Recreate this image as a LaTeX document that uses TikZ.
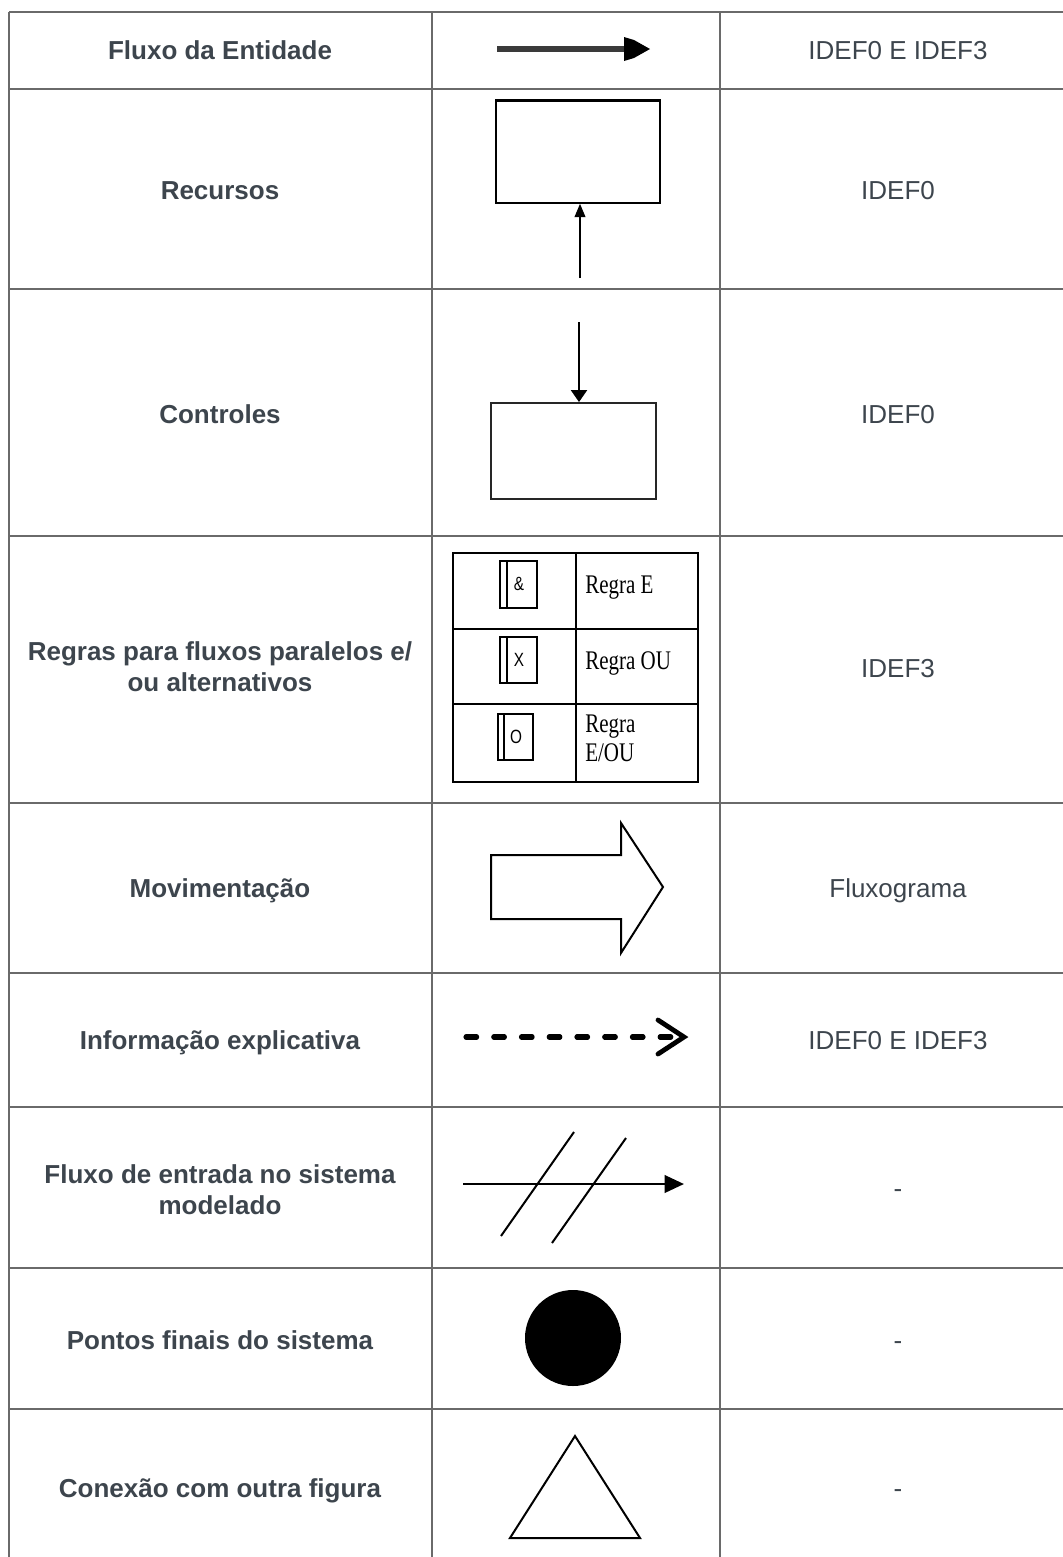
\documentclass[tikz,border=0pt]{standalone}
\usepackage{graphicx}
\usepackage{fontspec}
\setmainfont{Liberation Sans}
\newfontfamily\serifx{Liberation Serif}
\usetikzlibrary{arrows.meta}
\definecolor{txt}{HTML}{3D454D}
\definecolor{rulec}{HTML}{6A6A6A}
\definecolor{shaft}{HTML}{3A3A3A}
\begin{document}
\begin{tikzpicture}[x={(0.75pt,0)},y={(0,-0.75pt)},
  grid/.style={draw=rulec,line width=1.1pt},
  lbl/.style={font=\fontsize{19.5}{23.25}\selectfont\bfseries,text=txt,align=center,inner sep=0pt},
  typ/.style={font=\fontsize{19.5}{23.25}\selectfont,text=txt,inner sep=0pt,anchor=base},
  serifl/.style={font=\serifx\fontsize{15.75}{18}\selectfont,inner sep=0pt,anchor=base west},
  smalll/.style={font=\fontsize{11.5}{13}\selectfont,inner sep=0pt},
  thin/.style={draw=black,line width=1.1pt},
  shapeln/.style={draw=black,line width=1.5pt,line join=miter}]
\useasboundingbox (0,0) rectangle (1063,1557);

% ---------- table grid ----------
\foreach \yy in {12,89,289,536,803,973,1107,1268,1409}
  \draw[grid] (9,\yy) -- (1063,\yy);
\foreach \xx in {9,432,720}
  \draw[grid] (\xx,12) -- (\xx,1557);

% ---------- left column ----------
\node[lbl,anchor=base] (l1) at (220,59) {Fluxo da Entidade};
\node[lbl,anchor=base] (l2) at (220,199) {Recursos};
\node[lbl,anchor=base] (l3) at (220,423) {Controles};
\node[lbl,anchor=center] (l4) at (220,667) {Regras para fluxos paralelos e/\\ou alternativos};
\node[lbl,anchor=base] (l5) at (220,897) {Movimentação};
\node[lbl,anchor=base] (l6) at (220,1049) {Informação explicativa};
\node[lbl,anchor=center] (l7) at (220,1190) {Fluxo de entrada no sistema\\modelado};
\node[lbl,anchor=base] (l8) at (220,1349) {Pontos finais do sistema};
\node[lbl,anchor=base] (l9) at (220,1497) {Conexão com outra figura};

% ---------- right column ----------
\node[typ] (r1) at (898,59) {IDEF0 E IDEF3};
\node[typ] (r2) at (898,199) {IDEF0};
\node[typ] (r3) at (898,423) {IDEF0};
\node[typ] (r4) at (898,677) {IDEF3};
\node[typ] (r5) at (898,897) {Fluxograma};
\node[typ] (r6) at (898,1049) {IDEF0 E IDEF3};
\node[typ] (r7) at (898,1197) {-};
\node[typ] (r8) at (898,1349) {-};
\node[typ] (r9) at (898,1497) {-};

% ---------- row 1: entity flow arrow ----------
\coordinate (f1s) at (497,49);
\coordinate (f1e) at (626,49);
\draw[shaft,line width=4pt] (f1s) -- (f1e);
\fill[black] (624,37) -- (634,40) -- (650,49) -- (634,58) -- (624,61) -- cycle;

% ---------- row 2: resources ----------
\node[thin,minimum width=123pt,minimum height=76.5pt,inner sep=0pt] (rbox) at (578,152) {};
\draw[black,line width=2.4pt] (rbox.north west) -- (rbox.north east);
\coordinate (rin) at (580,278);
\draw[black,line width=1.3pt,-{Triangle[length=10pt,width=8pt]}] (rin) -- (rin |- rbox.south);

% ---------- row 3: controls ----------
\node[thin,draw=black!85,line width=1.4pt,minimum width=123.75pt,minimum height=72pt,inner sep=0pt] (cbox) at (573.5,451) {};
\coordinate (cin) at (579,322);
\draw[black,line width=1.6pt,-{Triangle[length=9pt,width=12pt]}] (cin) -- (cin |- cbox.north);

% ---------- row 4: rules sub-table ----------
\draw[line width=0.9pt] (453,553) rectangle (698,782);
\draw[line width=0.9pt] (576,553) -- (576,782);
\draw[line width=0.9pt] (453,629) -- (698,629);
\draw[line width=0.9pt] (453,704) -- (698,704);
% small junction boxes
\draw[line width=1pt] (500,561) rectangle (537,608);
\draw[line width=1pt] (507,561) -- (507,608);
\node[smalll] (amp) at (519,584) {\scalebox{1}[1.25]{\&}};
\draw[line width=1pt] (500,637) rectangle (537,683);
\draw[line width=1pt] (507,637) -- (507,683);
\node[smalll] (xx) at (519,660) {\scalebox{1}[1.25]{X}};
\draw[line width=1pt] (498,714) rectangle (533,760);
\draw[line width=1pt] (504,714) -- (504,760);
\node[smalll] (oo) at (516,737) {\scalebox{1}[1.25]{O}};
\node[serifl] (re) at (585,593) {\scalebox{1}[1.28]{Regra E}};
\node[serifl] (rou) at (585,669) {\scalebox{1}[1.28]{Regra OU}};
\node[serifl] (reo1) at (585,732) {\scalebox{1}[1.28]{Regra}};
\node[serifl] (reo2) at (585,761) {\scalebox{1}[1.28]{E/OU}};

% ---------- row 5: movement block arrow ----------
\draw[shapeln] (491,855) -- (621,855) -- (621,823) -- (663,887) -- (621,953) -- (621,919) -- (491,919) -- cycle;

% ---------- row 6: dashed explanatory arrow ----------
\coordinate (d1) at (466,1037);
\coordinate (d2) at (680,1037);
\draw[black,line width=3.8pt,line cap=round,dash pattern=on 8pt off 12.8pt] (d1) -- (d2);
\draw[black,line width=3.6pt,line cap=round,line join=miter] (658,1020) -- (684,1037) -- (658,1054);

% ---------- row 7: input flow ----------
\coordinate (e1) at (463,1184);
\coordinate (e2) at (684,1184);
\draw[black,line width=2.1pt,-{Triangle[length=14.5pt,width=13pt]}] (e1) -- (e2);
\draw[black,line width=1.5pt] (501,1236) -- (574,1132);
\draw[black,line width=1.5pt] (552,1243) -- (626,1138);

% ---------- row 8: end point ----------
\node[circle,fill=black,minimum size=72pt,inner sep=0pt] (endpt) at (573,1338) {};

% ---------- row 9: connection triangle ----------
\draw[shapeln] (575,1436) -- (640,1538) -- (510,1538) -- cycle;
\end{tikzpicture}
\end{document}
